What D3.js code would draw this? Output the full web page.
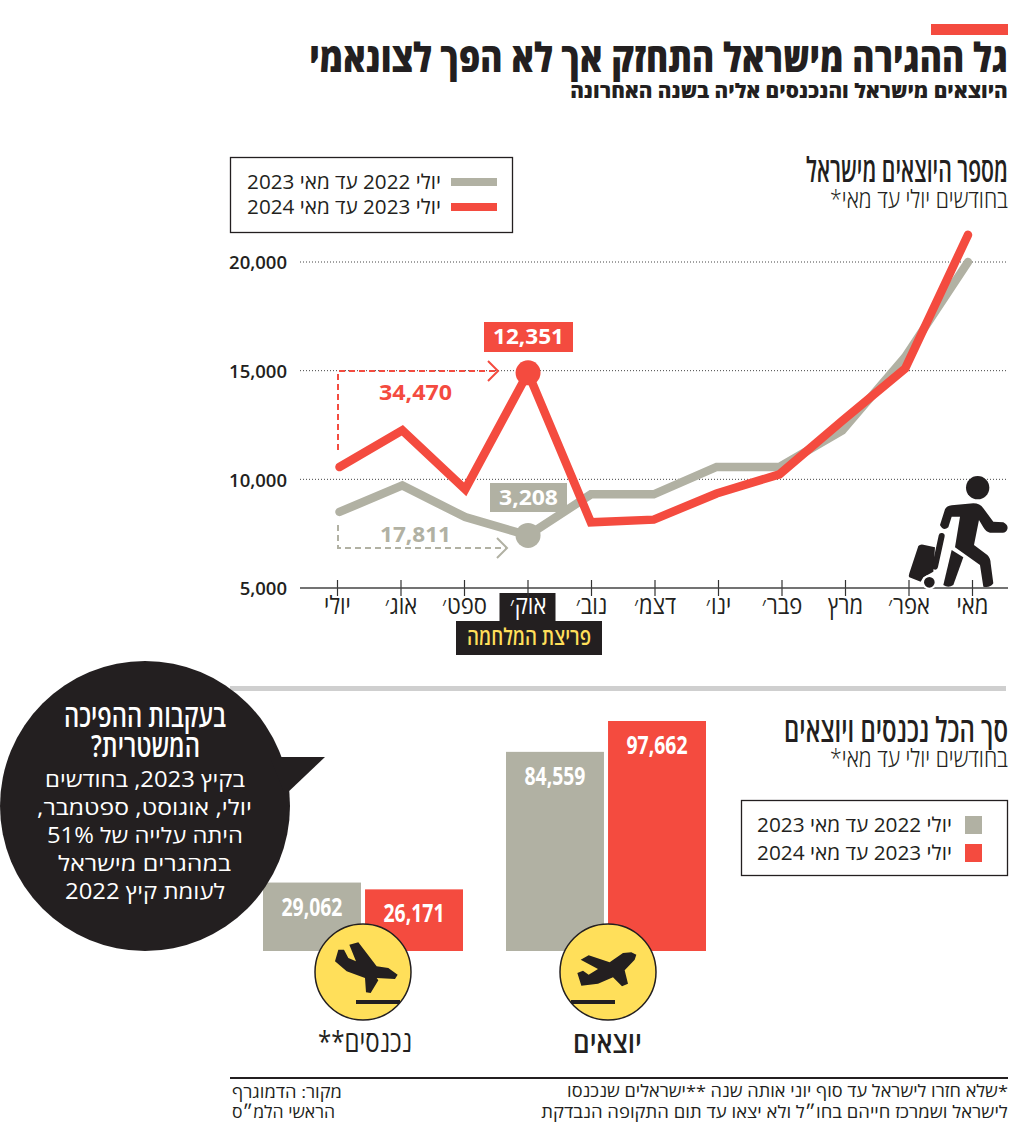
<!DOCTYPE html>
<html lang="he"><head><meta charset="utf-8">
<script src="https://cdn.jsdelivr.net/npm/d3@7"></script>
<style>html,body{margin:0;padding:0;background:#fff}svg{display:block}text{font-family:"Open Sans",sans-serif}</style>
</head><body><svg id="c" width="1024" height="1129"></svg>
<script>
const months=["יולי","אוג׳","ספט׳","אוק׳","נוב׳","דצמ׳","ינו׳","פבר׳","מרץ","אפר׳","מאי"];
const prevYear=[8500,9720,8260,7420,9310,9310,10570,10570,12250,15630,20000];
const currYear=[10566,12256,9540,14900,8020,8145,9350,10230,12700,15100,21250];
const yTicks=[5000,10000,15000,20000];
const periodLabels=["יולי 2022 עד מאי 2023","יולי 2023 עד מאי 2024"];
const groupNames=["נכנסים**","יוצאים"];
const totalsPrev=[29062,84559];
const totalsCurr=[26171,97662];
const RED="#f44b3f",GRAY="#b1b1a3",INK="#231f20",YEL="#ffdf5a";
const svg=d3.select("#c");

function fit(g,str,x0,x1,base,size,weight,fill,extra){
  const t=g.append("text").text(str).attr("direction","rtl").attr("text-anchor","middle")
    .attr("font-size",size).attr("font-weight",weight).attr("fill",fill);
  if(extra)t.style("font-family",extra);
  const w=t.node().getComputedTextLength();
  t.attr("transform",`translate(${(x0+x1)/2},${base}) scale(${(x1-x0)/w},1)`);
  return t;
}
// header
svg.append("rect").attr("x",931).attr("y",24).attr("width",77).attr("height",11).attr("fill",RED);
fit(svg,"גל ההגירה מישראל התחזק אך לא הפך לצונאמי",309,1008,72,40,800,INK);
fit(svg,"היוצאים מישראל והנכנסים אליה בשנה האחרונה",570,1008,98,20,800,INK);
fit(svg,"מספר היוצאים מישראל",806,1008,182,34,600,INK);
fit(svg,"בחודשים יולי עד מאי*",830,1008,208,25,300,INK);

// line chart
const x=d3.scalePoint().domain(months).range([337,972]);
const lineX=d3.scalePoint().domain(months).range([339.5,968]);
const y=d3.scaleLinear().domain([5000,20000]).range([588,262]);
const grid=svg.append("g");
grid.selectAll("line").data(yTicks.slice(1)).join("line")
  .attr("x1",300).attr("x2",1008).attr("y1",d=>y(d)).attr("y2",d=>y(d))
  .attr("stroke","#444").attr("stroke-width",1).attr("stroke-dasharray","1 2");
const yAxis=svg.append("g").attr("transform","translate(287,1)")
  .call(d3.axisLeft(y).tickValues(yTicks).tickSize(0).tickPadding(0).tickFormat(d3.format(",")));
yAxis.select(".domain").remove();
yAxis.selectAll("text").attr("font-size",18.5).attr("font-weight",600).attr("fill",INK).style("font-family",'"Open Sans"');

// highlight behind tick label
svg.append("rect").attr("x",x("אוק׳")-28).attr("y",593).attr("width",56).attr("height",29).attr("fill",INK);
const xAxis=svg.append("g").attr("transform","translate(0,588)")
  .call(d3.axisBottom(x).tickSize(7).tickPadding(0));
xAxis.select(".domain").remove();
xAxis.selectAll("line").attr("y1",-8).attr("y2",8).attr("stroke","#333").attr("stroke-width",1.2);
xAxis.selectAll("text").attr("font-size",25).attr("font-weight",400)
  .attr("direction","rtl").attr("dy",0).attr("y",0)
  .attr("transform","translate(0,26) scale(.88,1)").attr("fill",d=>d==="אוק׳"?"#fff":INK)
  .style("font-family",'"Open Sans"');
svg.append("line").attr("x1",300).attr("x2",1008).attr("y1",588).attr("y2",588).attr("stroke","#444").attr("stroke-width",1.6);
svg.append("rect").attr("x",456).attr("y",621).attr("width",146).attr("height",34).attr("fill",INK);
fit(svg,"פריצת המלחמה",467,591,645,23,600,YEL);

const line=d3.line().x((d,i)=>lineX(months[i])).y(d=>y(d));
const drawLine=(vals,col,w)=>svg.append("path").datum(vals).attr("d",line).attr("fill","none")
  .attr("stroke",col).attr("stroke-width",w).attr("stroke-linecap","round").attr("stroke-linejoin","miter");
drawLine(prevYear,GRAY,8.5);
drawLine(currYear,RED,8.5);
svg.append("circle").attr("cx",lineX("אוק׳")).attr("cy",y(prevYear[3])).attr("r",12.5).attr("fill",GRAY);
svg.append("circle").attr("cx",lineX("אוק׳")).attr("cy",y(currYear[3])).attr("r",12.5).attr("fill",RED);

// annotations
function dashed(pts,arrow,col){
  svg.append("path").attr("d",d3.line()(pts)).attr("fill","none").attr("stroke",col).attr("stroke-width",2).attr("stroke-dasharray","6 4");
  svg.append("path").attr("d",d3.line()(arrow)).attr("fill","none").attr("stroke",col).attr("stroke-width",2);
}
dashed([[338,450],[338,371],[497,371]],[[488,361],[498,371],[488,381]],RED);
dashed([[338,525],[338,548],[506,548]],[[497,538],[507,548],[497,558]],GRAY);
fit(svg,"34,470",379,452,400,21,700,RED).attr("direction","ltr");
fit(svg,"17,811",380,451,542,21,700,GRAY).attr("direction","ltr");
svg.append("rect").attr("x",484).attr("y",322).attr("width",89).attr("height",30).attr("fill",RED);
fit(svg,"12,351",493,564,344,21,700,"#fff").attr("direction","ltr");
svg.append("rect").attr("x",490).attr("y",483).attr("width",77).attr("height",29).attr("fill",GRAY);
fit(svg,"3,208",499,558,505,21,700,"#fff").attr("direction","ltr");

// legend 1
svg.append("rect").attr("x",230.5).attr("y",157.5).attr("width",282).attr("height",75).attr("fill","none").attr("stroke",INK).attr("stroke-width",1.3);
[GRAY,RED].forEach((c,i)=>{
  const yy=182+i*25;
  svg.append("rect").attr("x",451).attr("y",yy-4).attr("width",46).attr("height",8).attr("fill",c);
  fit(svg,periodLabels[i],247,441,yy+7,20,400,INK);
});

// walker icon
const walker=svg.append("g").attr("transform","translate(900,470) scale(.3333)").attr("fill",INK);
walker.append("circle").attr("cx",233).attr("cy",53).attr("r",35);
walker.append("path").attr("d","M120 165L135 118Q140 108 155 106L220 100Q240 100 250 115L280 155L310 157Q326 165 322 178Q318 190 305 188L270 188Q258 186 250 172L237 150L222 225L262 255Q272 265 272 280L280 340Q270 355 250 350L240 285L165 232L180 140L155 140L145 172Q130 185 120 165Z");
walker.append("path").attr("d","M155 240L190 262L160 345Q145 355 130 345Z");
walker.append("path").attr("d","M55 228Q60 222 70 224L105 232L100 305L70 322L62 335L28 322Q25 318 28 310Z");
walker.append("path").attr("d","M125 198L105 290").attr("stroke",INK).attr("stroke-width",18).attr("stroke-linecap","round").attr("fill","none");
walker.append("circle").attr("cx",88).attr("cy",337).attr("r",19).attr("stroke","#fff").attr("stroke-width",6);

// divider
svg.append("rect").attr("x",230).attr("y",686).attr("width",776).attr("height",5).attr("fill","#cfcfcf");

// section 2
fit(svg,"סך הכל נכנסים ויוצאים",784,1008,742,34,600,INK);
fit(svg,"בחודשים יולי עד מאי*",830,1008,767,25,300,INK);
svg.append("rect").attr("x",741.5).attr("y",800.5).attr("width",266).attr("height",75).attr("fill","none").attr("stroke",INK).attr("stroke-width",1.3);
[GRAY,RED].forEach((c,i)=>{
  svg.append("rect").attr("x",965).attr("y",816+i*28).attr("width",17).attr("height",18).attr("fill",c);
  fit(svg,periodLabels[i],757,952,832+i*28,20,400,INK);
});

const h=d3.scaleLinear().domain([0,97662]).range([951,721]);
const groupX=d3.scaleOrdinal().domain(groupNames).range([263,506]);
const sub=d3.scaleBand().domain([0,1]).range([0,200]).paddingInner(0.04);
const bars=groupNames.map((n,i)=>[{n,k:0,v:totalsPrev[i],c:GRAY},{n,k:1,v:totalsCurr[i],c:RED}]).flat();
svg.append("g").selectAll("rect").data(bars).join("rect")
  .attr("x",d=>groupX(d.n)+sub(d.k)).attr("width",sub.bandwidth())
  .attr("y",d=>h(d.v)).attr("height",d=>951-h(d.v)).attr("fill",d=>d.c);
bars.forEach(d=>{
  const cx=groupX(d.n)+sub(d.k)+sub.bandwidth()/2;
  fit(svg,d3.format(",")(d.v),cx-30.5,cx+30.5,h(d.v)+33,25,700,"#fff").attr("direction","ltr");
});

// plane badges
const landing="M1005 935L1015 900L1032 900L1045 925L1068 935L1048 885L1075 878L1130 950L1165 955L1193 975L1185 988L1130 985L1135 992L1112 1030L1098 1028L1095 985L1040 965Z";
const takeoff="M455 825L440 818L415 820L375 848L312 827L288 840L340 868L312 885L295 873L278 880L290 918L340 912L385 893L412 920L430 912L420 872L450 840Z";
[[363,landing,1089,967,356,400],[608,takeoff,370,877,571,615]].forEach(([cx,d,ox,oy,b0,b1])=>{
  svg.append("circle").attr("cx",cx).attr("cy",972).attr("r",48).attr("fill",YEL).attr("stroke",INK).attr("stroke-width",1.5);
  svg.append("path").attr("d",d).attr("fill",INK).attr("transform",`translate(${cx},972) scale(.3333) translate(${-ox},${-oy})`);
  svg.append("rect").attr("x",b0).attr("y",1000).attr("width",b1-b0).attr("height",4).attr("fill",INK);
});
fit(svg,groupNames[0],318,412,1052,29,500,INK);
fit(svg,groupNames[1],573,642,1053,29,600,INK);

// bubble
svg.append("circle").attr("cx",145).attr("cy",806).attr("r",145).attr("fill",INK);
svg.append("path").attr("d","M270 757L325 757L285 795Z").attr("fill",INK);
fit(svg,"בעקבות ההפיכה",64,226,727,31,600,"#fff");
fit(svg,"המשטרית?",91,200,757,31,600,"#fff");
[["בקיץ 2023, בחודשים",45,245,787],["יולי, אוגוסט, ספטמבר,",37,252,815],["היתה עלייה של 51%",47,243,843],["במהגרים מישראל",58,231,871],["לעומת קיץ 2022",65,225,899]]
 .forEach(([s,a,b,yy])=>fit(svg,s,a,b,yy,21,400,"#fff"));

// footer
svg.append("rect").attr("x",230).attr("y",1077).attr("width",778).attr("height",2).attr("fill",INK);
fit(svg,"*שלא חזרו לישראל עד סוף יוני אותה שנה **ישראלים שנכנסו",567,1008,1097,17,400,INK);
fit(svg,"לישראל ושמרכז חייהם בחו״ל ולא יצאו עד תום התקופה הנבדקת",541,1008,1118,17,400,INK);
fit(svg,"מקור: הדמוגרף",232,342,1098,17,400,INK);
fit(svg,"הראשי הלמ״ס",232,335,1118,17,400,INK);
</script></body></html>
